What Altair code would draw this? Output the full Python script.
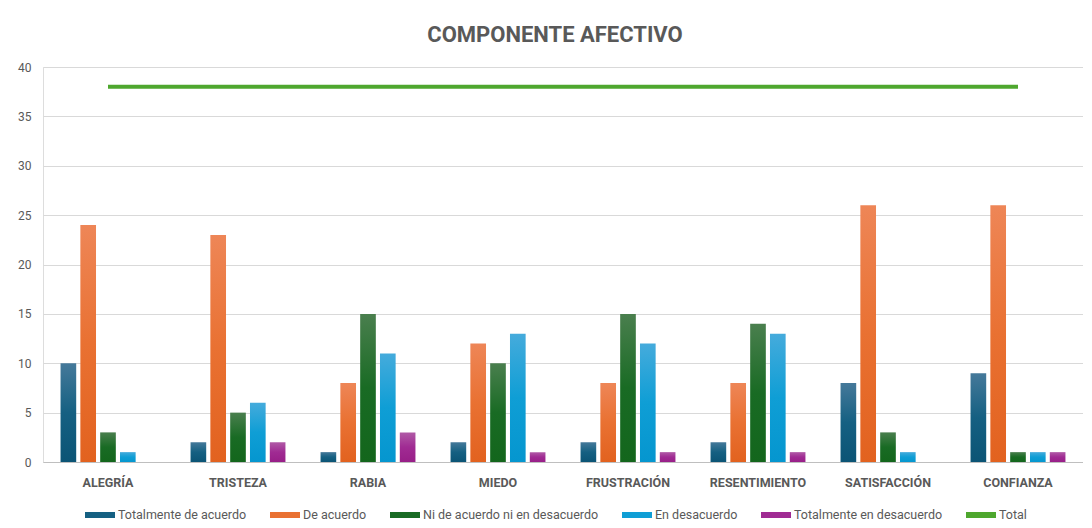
import altair as alt
import pandas as pd

categories = ["ALEGRÍA", "TRISTEZA", "RABIA", "MIEDO", "FRUSTRACIÓN",
              "RESENTIMIENTO", "SATISFACCIÓN", "CONFIANZA"]
series = ["Totalmente de acuerdo", "De acuerdo", "Ni de acuerdo ni en desacuerdo",
          "En desacuerdo", "Totalmente en desacuerdo"]
tot_acuerdo = [10, 2, 1, 2, 2, 2, 8, 9]
de_acuerdo = [24, 23, 8, 12, 8, 8, 26, 26]
ni_ni = [3, 5, 15, 10, 15, 14, 3, 1]
en_desacuerdo = [1, 6, 11, 13, 12, 13, 1, 1]
tot_desacuerdo = [0, 2, 3, 1, 1, 1, 0, 1]
total = [38, 38, 38, 38, 38, 38, 38, 38]

colors = ["#156082", "#E97132", "#196B24", "#0F9ED5", "#A02B93", "#4EA72E"]
grad_top = ["#45799A", "#EE8657", "#4A7F4E", "#45ABDC", "#B05AA6"]
grad_bottom = ["#0B5475", "#E2621F", "#13661C", "#0596CF", "#981F88"]

values = [tot_acuerdo, de_acuerdo, ni_ni, en_desacuerdo, tot_desacuerdo]
rows = []
for s, vals in zip(series, values):
    for c, v in zip(categories, vals):
        rows.append({"cat": c, "serie": s, "valor": v})
bars_df = pd.DataFrame(rows)
line_df = pd.DataFrame({"cat": categories, "serie": ["Total"] * len(categories), "valor": total})

domain = series + ["Total"]
color_scale = alt.Scale(domain=domain, range=colors)
font = "Roboto"
gray = "#595959"

x = alt.X("cat:N", sort=categories, title=None,
          scale=alt.Scale(paddingInner=0.27, paddingOuter=0.135),
          axis=alt.Axis(labelAngle=0, labelFontWeight="bold", labelFontSize=12.5,
                        labelColor=gray, labelFont=font, ticks=False, domainColor="#BFBFBF",
                        labelPadding=14))
y = alt.Y("valor:Q", title=None,
          scale=alt.Scale(domain=[0, 40], nice=False),
          axis=alt.Axis(values=[0, 5, 10, 15, 20, 25, 30, 35, 40], ticks=False, tickSize=0,
                        domain=False, gridColor="#D9D9D9", labelColor=gray, labelFontSize=12,
                        labelFont=font, labelPadding=12, minExtent=26, maxExtent=26))

legend = alt.Legend(title=None, orient="none", direction="horizontal",
                    legendX=39, legendY=430,
                    symbolType="stroke", symbolSize=900, symbolStrokeWidth=6,
                    labelFont=font, labelFontSize=12.5, labelColor=gray, columnPadding=11,
                    labelOffset=0, labelLimit=0)

layers = []
for i, s in enumerate(series):
    grad = alt.LinearGradient(
        gradient="linear", x1=0, x2=0, y1=0, y2=1,
        stops=[alt.GradientStop(color=grad_top[i], offset=0),
               alt.GradientStop(color=colors[i], offset=0.5),
               alt.GradientStop(color=grad_bottom[i], offset=1)])
    layers.append(
        alt.Chart(bars_df).transform_filter(alt.datum.serie == s)
        .mark_bar(fill=grad).encode(
            x=x,
            xOffset=alt.XOffset("serie:N", scale=alt.Scale(domain=series, paddingInner=0.21)),
            y=y,
        )
    )

line = alt.Chart(line_df).mark_line(strokeWidth=4).encode(
    x=alt.X("cat:N", sort=categories),
    y=alt.Y("valor:Q"),
    color=alt.Color("serie:N", scale=color_scale, legend=legend),
)

chart = alt.layer(*layers, line).properties(
    width=1040, height=395,
    title=alt.TitleParams("COMPONENTE AFECTIVO", font=font, fontSize=22, fontWeight="bold",
                          color=gray, anchor="middle", offset=14, dx=-8),
    padding={"left": 9, "top": 16, "right": 0, "bottom": 0},
).configure_view(stroke=None).configure(background="white")

chart.save("out.html", embed_options={"renderer": "svg", "actions": False})
